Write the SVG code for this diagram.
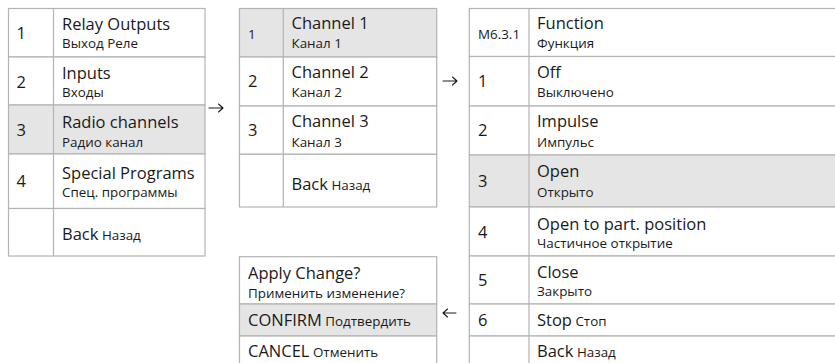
<svg xmlns="http://www.w3.org/2000/svg" width="835" height="363" viewBox="0 0 835 363">
<style>
.c{fill:#ffffff;stroke:#b3b3b3;stroke-width:1.2}
.h{fill:#e5e5e5;stroke:#b3b3b3;stroke-width:1.2}
.d{stroke:#b3b3b3;stroke-width:1.2}
text{font-family:"Open Sans","Liberation Sans",sans-serif;fill:#1a1a1a}
.m{font-size:16.5px}
.s{font-size:13.4px}
.a{fill:none;stroke:#1a1a1a;stroke-width:1.1;stroke-linecap:round;stroke-linejoin:round}
</style>
<rect width="835" height="363" fill="#ffffff"/>

<g id="menu-main">
  <rect class="c" x="8.5" y="8.5" width="196.5" height="48.5"/>
  <rect class="c" x="8.5" y="57" width="196.5" height="48"/>
  <rect class="h" x="8.5" y="105" width="196.5" height="49"/>
  <rect class="c" x="8.5" y="154" width="196.5" height="54.5"/>
  <rect class="c" x="8.5" y="208.5" width="196.5" height="47.5"/>
  <line class="d" x1="53.5" y1="8.5" x2="53.5" y2="256"/>
  <text class="m" x="16.5" y="39">1</text>
  <text class="m" x="62" y="30">Relay Outputs</text>
  <text class="s" x="62" y="47.5">Выход Реле</text>
  <text class="m" x="16.5" y="87.5">2</text>
  <text class="m" x="62" y="78.5">Inputs</text>
  <text class="s" x="62" y="96.5">Входы</text>
  <text class="m" x="16.5" y="136">3</text>
  <text class="m" x="62" y="127.5">Radio channels</text>
  <text class="s" x="62" y="146.5">Радио канал</text>
  <text class="m" x="16.5" y="187">4</text>
  <text class="m" x="62" y="179.3">Special Programs</text>
  <text class="s" x="62" y="197">Спец. программы</text>
  <text x="62" y="240"><tspan class="m">Back</tspan><tspan class="s"> Назад</tspan></text>
</g>

<g id="menu-channels">
  <rect class="h" x="239.5" y="8.5" width="197.2" height="48.5"/>
  <rect class="c" x="239.5" y="57" width="197.2" height="49"/>
  <rect class="c" x="239.5" y="106" width="197.2" height="48.3"/>
  <rect class="c" x="239.5" y="154.3" width="197.2" height="52.7"/>
  <line class="d" x1="283.3" y1="8.5" x2="283.3" y2="207"/>
  <text class="s" x="248" y="39">1</text>
  <text class="m" x="291.5" y="29.3">Channel 1</text>
  <text class="s" x="291.5" y="47.7">Канал 1</text>
  <text class="m" x="248" y="87.3">2</text>
  <text class="m" x="291.5" y="77.7">Channel 2</text>
  <text class="s" x="291.5" y="97">Канал 2</text>
  <text class="m" x="248" y="136">3</text>
  <text class="m" x="291.5" y="126.7">Channel 3</text>
  <text class="s" x="291.5" y="146.5">Канал 3</text>
  <text x="291.5" y="190"><tspan class="m">Back</tspan><tspan class="s"> Назад</tspan></text>
</g>

<g id="menu-function">
  <rect class="c" x="469.3" y="8.5" width="380" height="48"/>
  <rect class="c" x="469.3" y="56.5" width="380" height="49.5"/>
  <rect class="c" x="469.3" y="106" width="380" height="49"/>
  <rect class="h" x="469.3" y="155" width="380" height="52"/>
  <rect class="c" x="469.3" y="207" width="380" height="49"/>
  <rect class="c" x="469.3" y="256" width="380" height="48"/>
  <rect class="c" x="469.3" y="304" width="380" height="32"/>
  <rect class="c" x="469.3" y="336" width="380" height="40"/>
  <line class="d" x1="529" y1="8.5" x2="529" y2="376"/>
  <text class="s" x="478" y="39.3">M6.3.1</text>
  <text class="m" x="537" y="29.3">Function</text>
  <text class="s" x="537" y="47.7">Функция</text>
  <text class="m" x="478" y="87.3">1</text>
  <text class="m" x="537" y="77.7">Off</text>
  <text class="s" x="537" y="97">Выключено</text>
  <text class="m" x="478" y="136">2</text>
  <text class="m" x="537" y="126.7">Impulse</text>
  <text class="s" x="537" y="146.5">Импульс</text>
  <text class="m" x="478" y="186.5">3</text>
  <text class="m" x="537" y="177">Open</text>
  <text class="s" x="537" y="196.7">Открыто</text>
  <text class="m" x="478" y="237.5">4</text>
  <text class="m" x="537" y="229.5">Open to part. position</text>
  <text class="s" x="537" y="247.5">Частичное открытие</text>
  <text class="m" x="478" y="286">5</text>
  <text class="m" x="537" y="278">Close</text>
  <text class="s" x="537" y="296">Закрыто</text>
  <text class="m" x="478" y="326">6</text>
  <text x="537" y="326"><tspan class="m">Stop</tspan><tspan class="s"> Стоп</tspan></text>
  <text x="537" y="357"><tspan class="m">Back</tspan><tspan class="s"> Назад</tspan></text>
</g>

<g id="menu-apply">
  <rect class="c" x="239.5" y="256.7" width="197.2" height="47.3"/>
  <rect class="h" x="239.5" y="304" width="197.2" height="32"/>
  <rect class="c" x="239.5" y="336" width="197.2" height="40"/>
  <text class="m" x="248" y="279">Apply Change?</text>
  <text class="s" x="248" y="297.5">Применить изменение?</text>
  <text x="248" y="326"><tspan class="m">CONFIRM</tspan><tspan class="s"> Подтвердить</tspan></text>
  <text x="248" y="357"><tspan class="m">CANCEL</tspan><tspan class="s"> Отменить</tspan></text>
</g>

<g id="connectors">
  <path class="a" d="M209 108H223M218.5 104L223 108L218.5 112"/>
  <path class="a" d="M443 81H457M452.5 77L457 81L452.5 85"/>
  <path class="a" d="M456 313H443M447.5 309L443 313L447.5 317"/>
</g>
</svg>
